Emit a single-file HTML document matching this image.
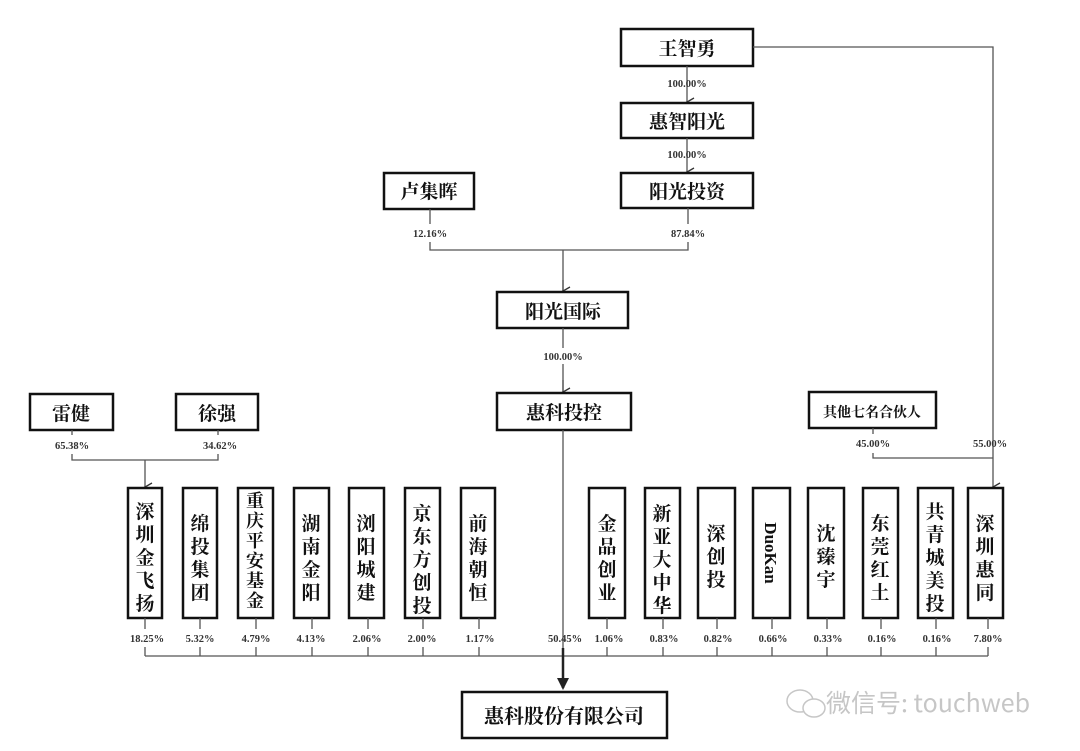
<!DOCTYPE html>
<html><head><meta charset="utf-8"><style>
html,body{margin:0;padding:0;background:#fff;}
svg{display:block}
.b{fill:#fff;stroke:#111;stroke-width:2.5}
.t{font-family:"Liberation Serif","Noto Serif CJK SC","Noto Sans CJK SC",serif;font-weight:bold;fill:#111;text-anchor:middle}
.p{font-family:"Liberation Serif",serif;font-weight:bold;font-size:10.5px;fill:#333;text-anchor:middle}
.l{stroke:#555;stroke-width:1.3;fill:none}
</style></head><body>
<svg width="1080" height="751" viewBox="0 0 1080 751" xmlns="http://www.w3.org/2000/svg">
<defs><marker id="a" markerWidth="10" markerHeight="10" refX="5" refY="8" orient="auto" markerUnits="userSpaceOnUse"><path d="M1,1 L5,8 L9,1" fill="none" stroke="#333" stroke-width="1.3"/></marker></defs>

<rect class="b" x="621" y="29" width="132" height="37"/><text class="t" x="687" y="55" font-size="19">王智勇</text>
<path class="l" d="M753,47 H993 V487" marker-end="url(#a)"/>
<path class="l" d="M687,66 V102" marker-end="url(#a)"/>
<text class="p" x="687" y="87">100.00%</text>
<rect class="b" x="621" y="103" width="132" height="35"/><text class="t" x="687" y="128" font-size="19">惠智阳光</text>
<path class="l" d="M687,138 V172" marker-end="url(#a)"/>
<text class="p" x="687" y="158">100.00%</text>
<rect class="b" x="621" y="173" width="132" height="35"/><text class="t" x="687" y="198" font-size="19">阳光投资</text>
<rect class="b" x="384" y="173" width="90" height="36"/><text class="t" x="429" y="198" font-size="19">卢集晖</text>
<path class="l" d="M430,209 V224 M688,208 V224 M430,242 V250 H688 V242 M563,250 V291"/>
<path class="l" d="M563,280 V291" marker-end="url(#a)"/>
<text class="p" x="430" y="237">12.16%</text>
<text class="p" x="688" y="237">87.84%</text>
<rect class="b" x="497" y="292" width="131" height="36"/><text class="t" x="563" y="318" font-size="19">阳光国际</text>
<path class="l" d="M563,328 V348 M563,364 V392"/>
<path class="l" d="M563,380 V392" marker-end="url(#a)"/>
<text class="p" x="563" y="360">100.00%</text>
<rect class="b" x="497" y="393" width="134" height="37"/><text class="t" x="564" y="419" font-size="19">惠科投控</text>
<path class="l" d="M563,430 V648"/>

<rect class="b" x="30" y="394" width="83" height="36"/><text class="t" x="71" y="420" font-size="19">雷健</text>
<rect class="b" x="176" y="394" width="82" height="36"/><text class="t" x="217" y="420" font-size="19">徐强</text>
<text class="p" x="72" y="449">65.38%</text><text class="p" x="220" y="449">34.62%</text>
<path class="l" d="M72,430 V435 M218,430 V435 M72,454 V460 H218 V454 M145,460 V487" marker-end="url(#a)"/>

<rect class="b" x="809" y="392" width="127" height="36"/><text class="t" x="872" y="417" font-size="14">其他七名合伙人</text>
<text class="p" x="873" y="447">45.00%</text><text class="p" x="990" y="447">55.00%</text>
<path class="l" d="M873,428 V434 M873,453 V458 H993"/>

<g font-size="19">
<rect class="b" x="128" y="488" width="34" height="130"/>
<text class="t" x="145" y="518">深</text><text class="t" x="145" y="541">圳</text><text class="t" x="145" y="564">金</text><text class="t" x="145" y="587">飞</text><text class="t" x="145" y="610">扬</text>
<rect class="b" x="183" y="488" width="34" height="130"/>
<text class="t" x="200" y="530">绵</text><text class="t" x="200" y="553">投</text><text class="t" x="200" y="576">集</text><text class="t" x="200" y="599">团</text>
<rect class="b" x="238" y="488" width="35" height="130"/>
<g font-size="18"><text class="t" x="255" y="507">重</text><text class="t" x="255" y="527">庆</text><text class="t" x="255" y="547">平</text><text class="t" x="255" y="567">安</text><text class="t" x="255" y="587">基</text><text class="t" x="255" y="607">金</text></g>
<rect class="b" x="294" y="488" width="35" height="130"/>
<text class="t" x="311" y="530">湖</text><text class="t" x="311" y="553">南</text><text class="t" x="311" y="576">金</text><text class="t" x="311" y="599">阳</text>
<rect class="b" x="349" y="488" width="35" height="130"/>
<text class="t" x="366" y="530">浏</text><text class="t" x="366" y="553">阳</text><text class="t" x="366" y="576">城</text><text class="t" x="366" y="599">建</text>
<rect class="b" x="405" y="488" width="35" height="130"/>
<text class="t" x="422" y="520">京</text><text class="t" x="422" y="543">东</text><text class="t" x="422" y="566">方</text><text class="t" x="422" y="589">创</text><text class="t" x="422" y="612">投</text>
<rect class="b" x="461" y="488" width="34" height="130"/>
<text class="t" x="478" y="530">前</text><text class="t" x="478" y="553">海</text><text class="t" x="478" y="576">朝</text><text class="t" x="478" y="599">恒</text>

<rect class="b" x="589" y="488" width="36" height="130"/>
<text class="t" x="607" y="530">金</text><text class="t" x="607" y="553">品</text><text class="t" x="607" y="576">创</text><text class="t" x="607" y="599">业</text>
<rect class="b" x="645" y="488" width="35" height="130"/>
<text class="t" x="662" y="520">新</text><text class="t" x="662" y="543">亚</text><text class="t" x="662" y="566">大</text><text class="t" x="662" y="589">中</text><text class="t" x="662" y="612">华</text>
<rect class="b" x="698" y="488" width="37" height="130"/>
<text class="t" x="716" y="540">深</text><text class="t" x="716" y="563">创</text><text class="t" x="716" y="586">投</text>
<rect class="b" x="753" y="488" width="37" height="130"/>
<text class="t" font-size="17" transform="translate(765,553) rotate(90)">DuoKan</text>
<rect class="b" x="808" y="488" width="36" height="130"/>
<text class="t" x="826" y="540">沈</text><text class="t" x="826" y="563">臻</text><text class="t" x="826" y="586">宇</text>
<rect class="b" x="863" y="488" width="35" height="130"/>
<text class="t" x="880" y="530">东</text><text class="t" x="880" y="553">莞</text><text class="t" x="880" y="576">红</text><text class="t" x="880" y="599">土</text>
<rect class="b" x="918" y="488" width="35" height="130"/>
<text class="t" x="935" y="518">共</text><text class="t" x="935" y="541">青</text><text class="t" x="935" y="564">城</text><text class="t" x="935" y="587">美</text><text class="t" x="935" y="610">投</text>
<rect class="b" x="968" y="488" width="35" height="130"/>
<text class="t" x="985" y="530">深</text><text class="t" x="985" y="553">圳</text><text class="t" x="985" y="576">惠</text><text class="t" x="985" y="599">同</text>
</g>

<g>
<text class="p" x="147" y="642">18.25%</text><text class="p" x="200" y="642">5.32%</text><text class="p" x="256" y="642">4.79%</text>
<text class="p" x="311" y="642">4.13%</text><text class="p" x="367" y="642">2.06%</text><text class="p" x="422" y="642">2.00%</text>
<text class="p" x="480" y="642">1.17%</text><text class="p" x="565" y="642">50.45%</text><text class="p" x="609" y="642">1.06%</text>
<text class="p" x="664" y="642">0.83%</text><text class="p" x="718" y="642">0.82%</text><text class="p" x="773" y="642">0.66%</text>
<text class="p" x="828" y="642">0.33%</text><text class="p" x="882" y="642">0.16%</text><text class="p" x="937" y="642">0.16%</text>
<text class="p" x="988" y="642">7.80%</text>
</g>
<path class="l" d="M145,618 V629 M200,618 V629 M256,618 V629 M312,618 V629 M368,618 V629 M423,618 V629 M479,618 V629 M607,618 V629 M663,618 V629 M717,618 V629 M772,618 V629 M827,618 V629 M881,618 V629 M936,618 V629 M988,618 V629"/>
<path class="l" d="M145,647 V656 M200,647 V656 M256,647 V656 M312,647 V656 M368,647 V656 M423,647 V656 M479,647 V656 M607,647 V656 M663,647 V656 M717,647 V656 M772,647 V656 M827,647 V656 M881,647 V656 M936,647 V656 M988,647 V656 M145,656 H988"/>
<path d="M563,648 V688" stroke="#222" stroke-width="2.5"/>
<path d="M557,678 L563,690 L569,678 Z" fill="#222"/>

<rect class="b" x="462" y="692" width="205" height="46"/><text class="t" x="564" y="723" font-size="20">惠科股份有限公司</text>

<g opacity="0.55">
<ellipse cx="800" cy="701" rx="13" ry="11" fill="none" stroke="#999" stroke-width="1.5"/>
<ellipse cx="814" cy="708" rx="11" ry="9" fill="#fff" stroke="#999" stroke-width="1.5"/>
<text x="826" y="712" font-family="'Noto Sans CJK SC','Liberation Sans',sans-serif" font-size="25" fill="#999">微信号: touchweb</text>
</g>
</svg>
</body></html>
